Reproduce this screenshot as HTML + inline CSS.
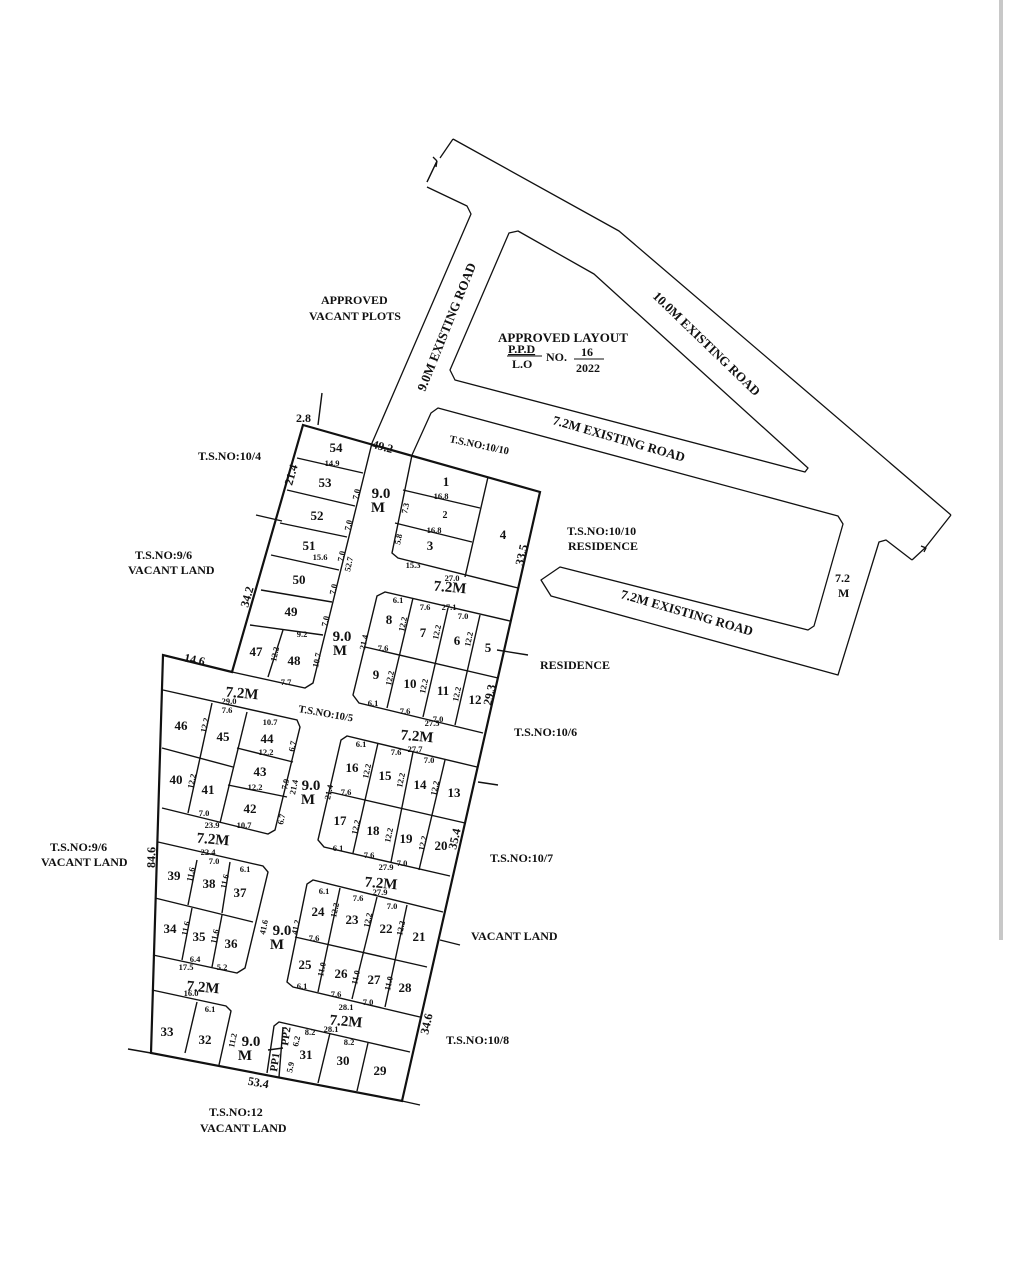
<!DOCTYPE html>
<html><head><meta charset="utf-8"><style>
html,body{margin:0;padding:0;background:#fff;}
svg{display:block;}
text{font-family:"Liberation Serif",serif;font-weight:bold;fill:#111;}
.t{font-size:12px;}
.n{font-size:13px;text-anchor:middle;}
.d{font-size:8.5px;text-anchor:middle;}
.r{font-size:15px;text-anchor:middle;}
</style></head><body>
<svg width="1011" height="1280" viewBox="0 0 1011 1280" xmlns="http://www.w3.org/2000/svg">
<rect width="1011" height="1280" fill="#fff"/>
<line x1="1001" y1="0" x2="1001" y2="940" stroke="#c8c8c8" stroke-width="4"/>
<g fill="none" stroke="#111" stroke-width="1.3" stroke-linejoin="round">
<polyline points="427,182 437,161"/>
<path d="M437,161 l-4,-4 m4,4 l-1,6"/>
<polyline points="453,139 440,158"/>
<polyline points="453,139 619,231 951,515"/>
<polyline points="427,187 467,206 471,214 372,443"/>
<polygon points="509,233 518,231 594,274 808,468 805,472 455,380 450,370"/>
<polyline points="412,455 431,413 438,408 838,516 843,524 814,626 808,630 560,567 541,580 551,596 838,675 879,542 886,540 912,560"/>
<polyline points="925,548 951,515"/>
<path d="M912,560 l13,-12 m-4,-2 l5,2 l-2,4"/>
<path d="M437,161 l-10,21"/>
</g>
<g fill="none" stroke="#111" stroke-width="2.2">
<polygon points="303,425 540,492 402,1101 151,1053 163,655 232,672"/>
</g>
<g fill="none" stroke="#111" stroke-width="1.4">
<line x1="322" y1="393" x2="318" y2="425"/>
<line x1="256" y1="515" x2="282" y2="521"/>
<line x1="497" y1="650" x2="528" y2="655"/>
<line x1="478" y1="782" x2="498" y2="785"/>
<line x1="440" y1="940" x2="460" y2="945"/>
<line x1="128" y1="1049" x2="151" y2="1053"/>
<line x1="402" y1="1101" x2="420" y2="1105"/>
<polyline points="372,443 313,683 305,688 232,672"/>
<line x1="297" y1="458" x2="363" y2="473"/>
<line x1="287" y1="490" x2="355" y2="506"/>
<line x1="280" y1="523" x2="347" y2="537"/>
<line x1="271" y1="555" x2="339" y2="570"/>
<line x1="261" y1="590" x2="332" y2="602"/>
<line x1="250" y1="625" x2="323" y2="635"/>
<line x1="283" y1="630" x2="268" y2="677"/>
<polyline points="412,455 392,553 398,558 518,588"/>
<line x1="403" y1="490" x2="480" y2="508"/>
<line x1="395" y1="523" x2="472" y2="542"/>
<line x1="488" y1="477" x2="465" y2="577"/>
<polyline points="510,621 385,592 377,596 353,695 359,703 483,733"/>
<line x1="365" y1="647" x2="498" y2="678"/>
<line x1="413" y1="598" x2="387" y2="708"/>
<line x1="448" y1="608" x2="423" y2="717"/>
<line x1="480" y1="615" x2="455" y2="725"/>
<polyline points="477,767 347,736 341,740 318,840 324,847 450,876"/>
<line x1="330" y1="792" x2="465" y2="823"/>
<line x1="378" y1="743" x2="353" y2="853"/>
<line x1="413" y1="752" x2="391" y2="862"/>
<line x1="445" y1="760" x2="419" y2="870"/>
<polyline points="163,690 297,720 300,727 275,830 268,834 162,808"/>
<line x1="212" y1="703" x2="188" y2="813"/>
<line x1="247" y1="712" x2="220" y2="823"/>
<line x1="162" y1="748" x2="233" y2="767"/>
<line x1="237" y1="748" x2="293" y2="762"/>
<line x1="228" y1="785" x2="287" y2="797"/>
<polyline points="158,842 263,866 268,872 245,968 237,973 153,955"/>
<line x1="155" y1="898" x2="253" y2="922"/>
<line x1="197" y1="860" x2="188" y2="905"/>
<line x1="230" y1="862" x2="222" y2="913"/>
<line x1="192" y1="908" x2="182" y2="960"/>
<line x1="222" y1="915" x2="212" y2="967"/>
<polyline points="152,990 226,1006 231,1011 219,1065"/>
<line x1="197" y1="1002" x2="185" y2="1053"/>
<polyline points="443,912 313,880 307,884 287,982 293,987 420,1017"/>
<line x1="295" y1="937" x2="427" y2="967"/>
<line x1="340" y1="888" x2="318" y2="992"/>
<line x1="377" y1="897" x2="352" y2="999"/>
<line x1="407" y1="905" x2="385" y2="1007"/>
<polyline points="410,1052 279,1022 274,1026 267,1073"/>
<line x1="283" y1="1027" x2="279" y2="1077"/>
<line x1="268" y1="1050" x2="283" y2="1048"/>
<line x1="330" y1="1033" x2="318" y2="1083"/>
<line x1="368" y1="1043" x2="357" y2="1091"/>
</g>
<text class="t" x="321" y="304">APPROVED</text>
<text class="t" x="309" y="320">VACANT PLOTS</text>
<text style="font-size:13px" x="0" y="0" transform="translate(425,392) rotate(-68)">9.0M EXISTING ROAD</text>
<text style="font-size:13px" x="498" y="342">APPROVED LAYOUT</text>
<text class="t" x="508" y="353" text-decoration="underline">P.P.D</text>
<text class="t" x="512" y="368">L.O</text>
<line x1="507" y1="356" x2="542" y2="356" stroke="#111"/>
<text class="t" x="546" y="361">NO.</text>
<text class="t" x="581" y="356">16</text>
<line x1="574" y1="359" x2="604" y2="359" stroke="#111"/>
<text class="t" x="576" y="372">2022</text>
<text style="font-size:13px" x="0" y="0" transform="translate(652,297) rotate(44)">10.0M EXISTING ROAD</text>
<text style="font-size:13px" x="0" y="0" transform="translate(552,424) rotate(16)">7.2M EXISTING ROAD</text>
<text style="font-size:10.5px" x="0" y="0" transform="translate(449,442) rotate(12)">T.S.NO:10/10</text>
<text class="t" x="198" y="460">T.S.NO:10/4</text>
<text class="t" x="135" y="559">T.S.NO:9/6</text>
<text class="t" x="128" y="574">VACANT LAND</text>
<text class="t" x="567" y="535">T.S.NO:10/10</text>
<text class="t" x="568" y="550">RESIDENCE</text>
<text style="font-size:13px" x="0" y="0" transform="translate(620,598) rotate(16)">7.2M EXISTING ROAD</text>
<text class="t" x="835" y="582">7.2</text>
<text class="t" x="838" y="597">M</text>
<text class="t" x="540" y="669">RESIDENCE</text>
<text class="t" x="514" y="736">T.S.NO:10/6</text>
<text style="font-size:10.5px" x="0" y="0" transform="translate(298,712) rotate(10)">T.S.NO:10/5</text>
<text class="t" x="50" y="851">T.S.NO:9/6</text>
<text class="t" x="41" y="866">VACANT LAND</text>
<text class="t" x="490" y="862">T.S.NO:10/7</text>
<text class="t" x="471" y="940">VACANT LAND</text>
<text class="t" x="446" y="1044">T.S.NO:10/8</text>
<text class="t" x="209" y="1116">T.S.NO:12</text>
<text class="t" x="200" y="1132">VACANT LAND</text>
<text class="t" x="296" y="422">2.8</text>
<text class="t" x="372" y="452" transform="rotate(15 388 448)">49.2</text>
<text class="t" x="0" y="0" transform="translate(292,486) rotate(-74)">21.4</text>
<text class="t" x="0" y="0" transform="translate(248,608) rotate(-74)">34.2</text>
<text class="t" x="184" y="664" transform="rotate(12 197 660)">14.6</text>
<text class="t" x="0" y="0" transform="translate(523,566) rotate(-77)">33.5</text>
<text class="t" x="0" y="0" transform="translate(491,706) rotate(-77)">29.3</text>
<text class="t" x="0" y="0" transform="translate(456,850) rotate(-77)">35.4</text>
<text class="t" x="0" y="0" transform="translate(155,868) rotate(-89)">84.6</text>
<text class="t" x="0" y="0" transform="translate(428,1035) rotate(-77)">34.6</text>
<text class="t" x="248" y="1087" transform="rotate(10 261 1082)">53.4</text>
<text class="r" x="381" y="498">9.0</text><text class="r" x="378" y="512">M</text>
<text class="r" x="450" y="592" transform="rotate(5 450 588)">7.2M</text>
<text class="r" x="342" y="641">9.0</text><text class="r" x="340" y="655">M</text>
<text class="r" x="242" y="698" transform="rotate(5 242 694)">7.2M</text>
<text class="r" x="417" y="741" transform="rotate(5 417 737)">7.2M</text>
<text class="r" x="311" y="790">9.0</text><text class="r" x="308" y="804">M</text>
<text class="r" x="213" y="844" transform="rotate(5 213 840)">7.2M</text>
<text class="r" x="381" y="888" transform="rotate(5 381 884)">7.2M</text>
<text class="r" x="282" y="935">9.0</text><text class="r" x="277" y="949">M</text>
<text class="r" x="203" y="992" transform="rotate(5 203 988)">7.2M</text>
<text class="r" x="346" y="1026" transform="rotate(5 346 1022)">7.2M</text>
<text class="r" x="251" y="1046">9.0</text><text class="r" x="245" y="1060">M</text>
<g>
<text class="n" x="336" y="452">54</text><text class="n" x="325" y="487">53</text><text class="n" x="317" y="520">52</text>
<text class="n" x="309" y="550">51</text><text class="n" x="299" y="584">50</text><text class="n" x="291" y="616">49</text>
<text class="n" x="256" y="656">47</text><text class="n" x="294" y="665">48</text>
<text class="n" x="446" y="486">1</text><text class="d" x="445" y="518" style="font-size:10px">2</text>
<text class="n" x="430" y="550">3</text><text class="n" x="503" y="539">4</text>
<text class="n" x="389" y="624">8</text><text class="n" x="423" y="637">7</text><text class="n" x="457" y="645">6</text><text class="n" x="488" y="652">5</text>
<text class="n" x="376" y="679">9</text><text class="n" x="410" y="688">10</text><text class="n" x="443" y="695">11</text><text class="n" x="475" y="704">12</text>
<text class="n" x="181" y="730">46</text><text class="n" x="223" y="741">45</text><text class="n" x="267" y="743">44</text>
<text class="n" x="260" y="776">43</text><text class="n" x="250" y="813">42</text><text class="n" x="176" y="784">40</text><text class="n" x="208" y="794">41</text>
<text class="n" x="352" y="772">16</text><text class="n" x="385" y="780">15</text><text class="n" x="420" y="789">14</text><text class="n" x="454" y="797">13</text>
<text class="n" x="340" y="825">17</text><text class="n" x="373" y="835">18</text><text class="n" x="406" y="843">19</text><text class="n" x="441" y="850">20</text>
<text class="n" x="174" y="880">39</text><text class="n" x="209" y="888">38</text><text class="n" x="240" y="897">37</text>
<text class="n" x="170" y="933">34</text><text class="n" x="199" y="941">35</text><text class="n" x="231" y="948">36</text>
<text class="n" x="318" y="916">24</text><text class="n" x="352" y="924">23</text><text class="n" x="386" y="933">22</text><text class="n" x="419" y="941">21</text>
<text class="n" x="305" y="969">25</text><text class="n" x="341" y="978">26</text><text class="n" x="374" y="984">27</text><text class="n" x="405" y="992">28</text>
<text class="n" x="167" y="1036">33</text><text class="n" x="205" y="1044">32</text>
<text class="n" x="306" y="1059">31</text><text class="n" x="343" y="1065">30</text><text class="n" x="380" y="1075">29</text>
</g>
<text style="font-size:11px" transform="translate(277,1072) rotate(-82)">PP1</text>
<text style="font-size:11px" transform="translate(288,1046) rotate(-82)">PP2</text>
<g>
<text class="d" x="332" y="466">14.9</text><text class="d" x="441" y="499">16.8</text><text class="d" x="434" y="533">16.8</text>
<text class="d" x="413" y="568">15.3</text><text class="d" x="320" y="560">15.6</text><text class="d" x="452" y="581">27.0</text>
<text class="d" x="449" y="610">27.1</text><text class="d" x="398" y="603">6.1</text><text class="d" x="425" y="610">7.6</text><text class="d" x="463" y="619">7.0</text>
<text class="d" x="302" y="637">9.2</text><text class="d" x="286" y="685">7.7</text><text class="d" x="383" y="651">7.6</text>
<text class="d" x="373" y="706">6.1</text><text class="d" x="405" y="714">7.6</text><text class="d" x="438" y="722">7.0</text><text class="d" x="432" y="726">27.5</text>
<text class="d" x="361" y="747">6.1</text><text class="d" x="396" y="755">7.6</text><text class="d" x="415" y="752">27.7</text><text class="d" x="429" y="763">7.0</text>
<text class="d" x="346" y="795">7.6</text><text class="d" x="338" y="851">6.1</text><text class="d" x="369" y="858">7.6</text><text class="d" x="402" y="866">7.0</text><text class="d" x="386" y="870">27.9</text>
<text class="d" x="229" y="704">29.0</text><text class="d" x="227" y="713">7.6</text><text class="d" x="270" y="725">10.7</text><text class="d" x="266" y="755">12.2</text>
<text class="d" x="255" y="790">12.2</text><text class="d" x="204" y="816">7.0</text><text class="d" x="212" y="828">23.9</text><text class="d" x="244" y="828">10.7</text>
<text class="d" x="208" y="855">22.4</text><text class="d" x="214" y="864">7.0</text><text class="d" x="245" y="872">6.1</text>
<text class="d" x="195" y="962">6.4</text><text class="d" x="186" y="970">17.5</text><text class="d" x="222" y="970">5.2</text>
<text class="d" x="191" y="996">16.0</text><text class="d" x="210" y="1012">6.1</text>
<text class="d" x="324" y="894">6.1</text><text class="d" x="358" y="901">7.6</text><text class="d" x="380" y="895">27.9</text><text class="d" x="392" y="909">7.0</text>
<text class="d" x="314" y="941">7.6</text><text class="d" x="302" y="989">6.1</text><text class="d" x="336" y="997">7.6</text><text class="d" x="368" y="1005">7.0</text><text class="d" x="346" y="1010">28.1</text>
<text class="d" x="310" y="1035">8.2</text><text class="d" x="331" y="1032">28.1</text><text class="d" x="349" y="1045">8.2</text>
</g>
<g style="font-size:8.5px">
<text transform="translate(358,500) rotate(-78)">7.0</text><text transform="translate(350,531) rotate(-78)">7.0</text>
<text transform="translate(343,562) rotate(-78)">7.0</text><text transform="translate(350,572) rotate(-78)">52.7</text>
<text transform="translate(335,595) rotate(-78)">7.0</text><text transform="translate(327,627) rotate(-78)">7.0</text>
<text transform="translate(276,662) rotate(-78)">12.2</text><text transform="translate(318,668) rotate(-78)">10.7</text>
<text transform="translate(407,514) rotate(-78)">7.3</text><text transform="translate(400,545) rotate(-78)">5.8</text>
<text transform="translate(404,632) rotate(-78)">12.2</text><text transform="translate(438,640) rotate(-78)">12.2</text><text transform="translate(470,647) rotate(-78)">12.2</text>
<text transform="translate(365,650) rotate(-78)">21.4</text>
<text transform="translate(391,686) rotate(-78)">12.2</text><text transform="translate(425,694) rotate(-78)">12.2</text><text transform="translate(458,702) rotate(-78)">12.2</text>
<text transform="translate(206,733) rotate(-78)">12.2</text><text transform="translate(294,752) rotate(-78)">6.7</text>
<text transform="translate(193,789) rotate(-78)">12.2</text><text transform="translate(287,790) rotate(-78)">7.9</text><text transform="translate(295,795) rotate(-78)">21.4</text><text transform="translate(283,825) rotate(-78)">6.7</text>
<text transform="translate(330,800) rotate(-78)">21.4</text>
<text transform="translate(368,779) rotate(-78)">12.2</text><text transform="translate(402,788) rotate(-78)">12.2</text><text transform="translate(436,796) rotate(-78)">12.2</text>
<text transform="translate(357,835) rotate(-78)">12.2</text><text transform="translate(390,843) rotate(-78)">12.2</text><text transform="translate(424,851) rotate(-78)">12.2</text>
<text transform="translate(192,882) rotate(-78)">11.6</text><text transform="translate(226,889) rotate(-78)">11.6</text>
<text transform="translate(187,936) rotate(-78)">11.6</text><text transform="translate(216,944) rotate(-78)">11.6</text>
<text transform="translate(265,935) rotate(-78)">41.6</text><text transform="translate(297,935) rotate(-78)">41.2</text>
<text transform="translate(336,918) rotate(-78)">12.2</text><text transform="translate(369,928) rotate(-78)">12.2</text><text transform="translate(402,936) rotate(-78)">12.2</text>
<text transform="translate(323,977) rotate(-78)">11.0</text><text transform="translate(357,985) rotate(-78)">11.0</text><text transform="translate(390,991) rotate(-78)">11.0</text>
<text transform="translate(234,1048) rotate(-78)">11.2</text><text transform="translate(298,1047) rotate(-78)">6.2</text><text transform="translate(292,1073) rotate(-78)">5.9</text>
</g>
</svg>
</body></html>
